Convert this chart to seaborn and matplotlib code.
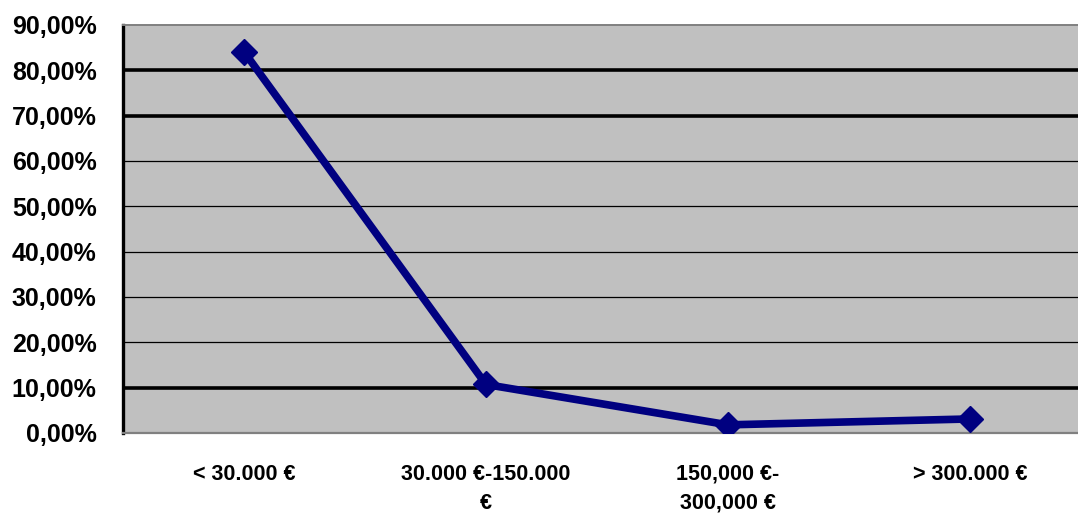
import matplotlib
matplotlib.use("Agg")
import matplotlib.pyplot as plt
import seaborn as sns
import pandas as pd
from matplotlib.ticker import FuncFormatter, FixedLocator

categories = ["< 30.000 €", "30.000 €-150.000\n€", "150,000 €-\n300,000 €", "> 300.000 €"]
shares = [84.1, 10.7, 1.8, 3.1]  # percent
y_ticks = [0, 10, 20, 30, 40, 50, 60, 70, 80, 90]
thick_grid = [10, 70, 80]

df = pd.DataFrame({"cat": categories, "share": shares})

sns.set_style("white")
plt.rcParams["font.family"] = ["Liberation Sans", "DejaVu Sans"]
plt.rcParams["font.weight"] = "bold"
plt.rcParams["text.color"] = "black"
plt.rcParams["xtick.color"] = "black"
plt.rcParams["ytick.color"] = "black"

fig = plt.figure(figsize=(10.78, 5.16), dpi=100)
ax = fig.add_axes([123 / 1078, 83 / 516, 968 / 1078, 408 / 516])
ax.set_facecolor("#C0C0C0")

sns.lineplot(data=df, x="cat", y="share", ax=ax, color="#000080", linewidth=5.5,
             marker="D", markersize=13, markeredgecolor="#000080", markeredgewidth=1,
             sort=False, zorder=3)

ax.set_xlim(-0.5, 3.5)
ax.set_ylim(0, 90)
ax.set_yticks(y_ticks)
ax.yaxis.set_major_formatter(FuncFormatter(lambda v, p: f"{v:.2f}".replace(".", ",") + "%"))
ax.set_xlabel("")
ax.set_ylabel("")

ax.yaxis.grid(True, color="black", linewidth=0.9)
ax.set_axisbelow(True)
for val, gl in zip(y_ticks, ax.get_ygridlines()):
    if val in thick_grid:
        gl.set_linewidth(2.6)
    if val in (0, 90):
        gl.set_visible(False)

ax.spines["left"].set_color("black")
ax.spines["left"].set_linewidth(2.4)
ax.spines["bottom"].set_color("#808080")
ax.spines["bottom"].set_linewidth(1.6)
ax.spines["top"].set_color("#808080")
ax.spines["top"].set_linewidth(1.4)
ax.spines["right"].set_visible(False)

ax.tick_params(axis="y", direction="out", length=5, width=1.2, colors="black",
               pad=14, labelsize=18)
ax.tick_params(axis="x", which="major", length=0, pad=22, labelsize=15.5, labelcolor="black")
ax.xaxis.set_minor_locator(FixedLocator([0.5, 1.5, 2.5]))
ax.tick_params(axis="x", which="minor", direction="out", length=7, width=1, color="#808080")
for lbl in ax.get_xticklabels():
    lbl.set_fontweight("bold")
    lbl.set_ha("center")
    lbl.set_va("top")
    lbl.set_linespacing(1.5)
for lbl in ax.get_yticklabels():
    lbl.set_fontweight("bold")

fig.savefig("out.png", dpi=100)
